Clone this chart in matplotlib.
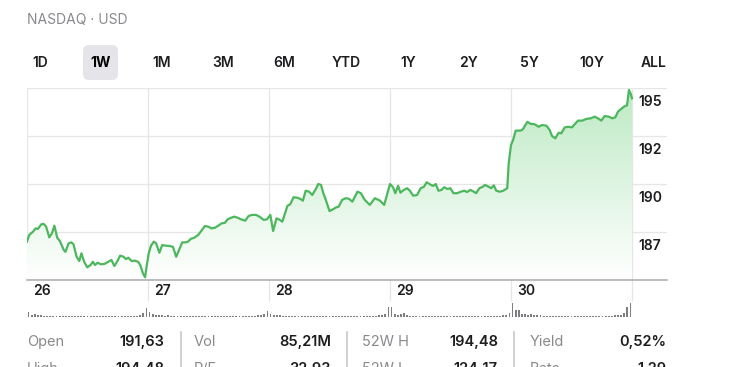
import numpy as np
import matplotlib
matplotlib.use("Agg")
import matplotlib.pyplot as plt
from matplotlib.patches import Polygon, FancyBboxPatch
from matplotlib.colors import LinearSegmentedColormap

plt.rcParams['font.family'] = ['Inter', 'DejaVu Sans']

# ---- data ----
day_labels = ["26", "27", "28", "29", "30"]

# time in trading days since the open of the 26th, price in USD
times = [
    0.000, 0.018, 0.050, 0.072, 0.090, 0.118, 0.138, 0.158, 0.184, 0.206,
    0.226, 0.250, 0.272, 0.304, 0.318, 0.344, 0.366, 0.384, 0.410, 0.432,
    0.450, 0.472, 0.498, 0.526, 0.544, 0.562, 0.584, 0.610, 0.638, 0.672,
    0.698, 0.722, 0.744, 0.770, 0.798, 0.818, 0.838, 0.864, 0.890, 0.918,
    0.936, 0.958, 0.976, 0.984,
    1.006, 1.025, 1.048, 1.067, 1.094, 1.117, 1.144, 1.178, 1.206, 1.233,
    1.256, 1.283, 1.311, 1.331, 1.353, 1.381, 1.414, 1.442, 1.469, 1.497,
    1.525, 1.553, 1.581, 1.608, 1.636, 1.658, 1.686, 1.714, 1.742, 1.769,
    1.803, 1.831, 1.858, 1.894, 1.928, 1.956, 1.983,
    2.011, 2.034, 2.062, 2.082, 2.110, 2.130, 2.153, 2.175, 2.203, 2.231,
    2.260, 2.280, 2.303, 2.331, 2.358, 2.387, 2.407, 2.430, 2.449, 2.472,
    2.500, 2.528, 2.557, 2.576, 2.604, 2.633, 2.661, 2.689, 2.731, 2.760,
    2.788, 2.833, 2.875, 2.918, 2.952,
    3.000, 3.025, 3.044, 3.067, 3.086, 3.114, 3.142, 3.164, 3.192, 3.225,
    3.253, 3.281, 3.303, 3.331, 3.356, 3.378, 3.400, 3.425, 3.448, 3.475,
    3.498, 3.525, 3.553, 3.586, 3.614, 3.636, 3.664, 3.692, 3.711, 3.739,
    3.767, 3.786, 3.814, 3.836, 3.858, 3.878, 3.906, 3.933, 3.969, 3.981,
    4.000, 4.017, 4.039, 4.080, 4.099, 4.135, 4.163, 4.196, 4.229, 4.256,
    4.292, 4.320, 4.339, 4.366, 4.394, 4.416, 4.444, 4.471, 4.504, 4.526,
    4.554, 4.589, 4.622, 4.659, 4.692, 4.727, 4.746, 4.774, 4.807, 4.837,
    4.862, 4.884, 4.906, 4.934, 4.959, 4.975, 4.990, 5.000,
]
prices = [
    187.00, 187.34, 187.52, 187.69, 187.66, 187.90, 187.92, 187.78, 187.22, 187.43,
    187.83, 187.20, 187.03, 186.56, 186.47, 186.91, 186.96, 186.86, 186.21, 185.99,
    186.39, 185.95, 185.66, 185.78, 185.95, 185.78, 185.90, 185.82, 185.83, 185.95,
    186.04, 185.73, 185.95, 186.27, 186.21, 186.09, 186.16, 185.99, 186.01, 185.95,
    185.78, 185.35, 185.14, 185.52,
    186.39, 186.79, 187.00, 186.91, 186.42, 186.82, 186.79, 186.77, 186.73, 186.21,
    186.56, 186.96, 186.96, 187.00, 187.14, 187.20, 187.34, 187.57, 187.81, 187.78,
    187.69, 187.72, 187.83, 187.95, 187.98, 188.16, 188.24, 188.30, 188.24, 188.16,
    188.09, 188.33, 188.39, 188.39, 188.27, 188.13, 188.16,
    188.39, 187.55, 188.21, 188.16, 188.04, 188.42, 188.87, 188.94, 189.31, 189.29,
    189.22, 189.13, 189.65, 189.60, 189.43, 189.74, 190.00, 189.95, 189.52, 189.13,
    188.59, 188.68, 188.79, 188.82, 189.17, 189.26, 189.23, 189.08, 189.60, 189.52,
    189.20, 188.91, 189.26, 189.13, 188.91,
    190.00, 189.83, 189.52, 189.91, 189.55, 189.69, 189.78, 189.65, 189.39, 189.43,
    189.78, 189.86, 190.09, 189.98, 189.90, 190.00, 189.65, 189.69, 189.83, 189.74,
    189.78, 189.52, 189.52, 189.60, 189.65, 189.58, 189.69, 189.60, 189.52, 189.78,
    189.86, 189.95, 189.86, 189.78, 189.93, 189.65, 189.60, 189.64, 189.78, 191.08,
    192.03, 192.29, 192.78, 192.78, 192.86, 193.24, 193.13, 193.11, 192.98, 193.07,
    193.04, 192.81, 192.50, 192.38, 192.67, 192.64, 192.95, 192.98, 192.95, 193.11,
    193.30, 193.30, 193.39, 193.42, 193.51, 193.39, 193.30, 193.54, 193.51, 193.42,
    193.47, 193.77, 193.89, 194.03, 194.10, 194.90, 194.69, 194.46,
]

# 10-minute volume bars, millions of shares (39 per session)
vol_26 = [5.5, 2.0, 2.8, 1.8, 1.6, 1.5, 1.4, 1.5, 1.3, 1.4, 1.3, 1.2, 1.3, 1.2, 1.3, 1.2, 1.1, 1.2, 1.3, 1.1,
          1.2, 1.1, 1.2, 1.0, 1.1, 1.2, 1.1, 1.0, 1.1, 1.2, 1.1, 1.2, 1.3, 1.2, 1.4, 1.5, 2.0, 4.0, 9.0]
vol_27 = [5.0, 3.0, 2.0, 1.8, 1.6, 1.5, 1.6, 1.4, 1.3, 1.4, 1.5, 1.3, 1.2, 1.3, 1.2, 1.1, 1.2, 1.1, 1.3, 1.2,
          1.1, 1.0, 1.2, 1.1, 1.2, 1.1, 1.3, 1.2, 1.1, 1.2, 1.3, 1.2, 1.4, 1.3, 1.5, 1.6, 2.0, 3.0, 6.5]
vol_28 = [3.0, 2.2, 1.8, 1.6, 1.5, 1.4, 1.5, 1.3, 1.4, 1.2, 1.3, 1.2, 1.1, 1.2, 1.1, 1.2, 1.1, 1.0, 1.1, 1.2,
          1.1, 1.0, 1.1, 1.2, 1.1, 1.0, 1.1, 1.2, 1.1, 1.2, 1.3, 1.2, 1.3, 1.4, 1.5, 1.7, 2.0, 3.0, 10.0]
vol_29 = [10.0, 3.5, 2.5, 3.0, 4.5, 2.0, 1.5, 1.4, 1.3, 1.4, 1.2, 1.3, 1.2, 1.1, 1.2, 1.1, 1.0, 1.1, 1.2, 1.1,
          1.0, 1.1, 1.0, 1.1, 1.2, 1.1, 1.0, 1.1, 1.2, 1.1, 1.2, 1.1, 1.3, 1.2, 1.3, 1.4, 1.6, 2.0, 4.0]
vol_30 = [14.5, 7.0, 7.0, 3.5, 3.0, 2.5, 3.5, 2.0, 1.8, 1.6, 1.5, 1.4, 1.5, 1.3, 1.4, 1.2, 1.3, 1.2, 1.1, 1.2,
          1.1, 1.2, 1.1, 1.0, 1.1, 1.2, 1.1, 1.2, 1.1, 1.2, 1.3, 1.5, 1.5, 2.0, 2.0, 2.5, 4.0, 10.0, 14.0]

grid_levels = [195.0, 192.5, 190.0, 187.5]
ranges = ["1D", "1W", "1M", "3M", "6M", "YTD", "1Y", "2Y", "5Y", "10Y", "ALL"]
selected_range = "1W"
exchange_text = "NASDAQ · USD"

stat_labels_1 = ["Open", "Vol", "52W H", "Yield"]
stat_values_1 = ["191,63", "85,21M", "194,48", "0,52%"]
stat_labels_2 = ["High", "P/E", "52W L", "Beta"]
stat_values_2 = ["194,48", "32,93", "124,17", "1,29"]

# ---- layout ----
W, H = 734, 367
fig = plt.figure(figsize=(W / 100, H / 100), dpi=100, facecolor='white')

px_day = 121.0          # pixels per session
x0, x1 = 27, 667        # left / right edge of chart area
y_top, y_bot = 88, 280  # 195 and 185

ax = fig.add_axes([x0 / W, 1 - y_bot / H, (x1 - x0) / W, (y_bot - y_top) / H])
ax.set_xlim(0, (x1 - x0) / px_day)
ax.set_ylim(185, 195)
ax.axis('off')

grid_c = '#e6e6e6'
for lv in grid_levels:
    ax.axhline(lv, color=grid_c, lw=0.9, zorder=0)
ax.axvline(0, color=grid_c, lw=0.9, zorder=0)
for d in range(1, len(day_labels) + 1):
    ax.axvline(d, ymin=-0.105, ymax=1, color=grid_c, lw=0.9, zorder=0, clip_on=False)
ax.axhline(185, color='#a9a9ad', lw=1.1, zorder=3, clip_on=False)

# gradient fill under the line
cmap = LinearSegmentedColormap.from_list('g', ['#ffffff', '#bdeac4'])
grad = np.linspace(0, 1, 256).reshape(-1, 1)
im = ax.imshow(grad, extent=[0, times[-1], 185, 195], origin='lower', aspect='auto',
               cmap=cmap, zorder=1, interpolation='bilinear')
verts = list(zip(times, prices)) + [(times[-1], 185), (times[0], 185)]
poly = Polygon(verts, closed=True, facecolor='none', edgecolor='none', transform=ax.transData)
ax.add_patch(poly)
im.set_clip_path(poly)

ax.plot(times, prices, color='#4cb75d', lw=1.6, zorder=4, solid_joinstyle='round')

# price labels: truncated grid values, just under each line
for lv in grid_levels:
    ax.annotate(str(int(lv)), xy=((638 - x0) / (x1 - x0), lv), xycoords=('axes fraction', 'data'),
                xytext=(0, -14), textcoords='offset pixels', ha='left', va='center',
                fontsize=10, fontweight='semibold', color='#1d1d1f')

# day labels
for d, lab in enumerate(day_labels):
    ax.annotate(lab, xy=(d, 185), xytext=(6, -11), textcoords='offset pixels',
                ha='left', va='center', fontsize=10, fontweight='semibold', color='#1d1d1f',
                annotation_clip=False)

# volume bars
vax = fig.add_axes([x0 / W, 1 - 317 / H, (x1 - x0) / W, 14 / H])
vax.set_xlim(0, (x1 - x0) / px_day)
vax.set_ylim(0, 14.5)
vax.axis('off')
for d, vols in enumerate([vol_26, vol_27, vol_28, vol_29, vol_30]):
    n = len(vols)
    xs = d + (np.arange(n) + 0.5) / n
    vax.bar(xs, vols, width=0.6 / n, color='#7d7d82', linewidth=0)

# overlay in pixel coordinates for the UI text
ov = fig.add_axes([0, 0, 1, 1], zorder=-1)
ov.set_xlim(0, W)
ov.set_ylim(H, 0)
ov.axis('off')

ov.text(27, 20, exchange_text, ha='left', va='center', fontsize=10, color='#8a8a8e')

range_x = [40, 101, 162, 223, 284, 346, 408, 468, 529, 592, 654]
for x, r in zip(range_x, ranges):
    if r == selected_range:
        ov.add_patch(FancyBboxPatch((83, 45), 35, 35, boxstyle='round,pad=0,rounding_size=6',
                                    facecolor='#e4e4e9', edgecolor='none'))
        ov.text(x, 63, r, ha='center', va='center', fontsize=10, fontweight='bold', color='#000000')
    else:
        ov.text(x, 63, r, ha='center', va='center', fontsize=10, fontweight='semibold', color='#1d1d1f')

label_x = [27, 194, 362, 530]
value_x = [164, 331, 498, 666]
for row_y, labs, vals in [(342, stat_labels_1, stat_values_1), (369, stat_labels_2, stat_values_2)]:
    for lx, vx, lab, val in zip(label_x, value_x, labs, vals):
        ov.text(lx, row_y, lab, ha='left', va='center', fontsize=10.5, color='#8a8a8e')
        ov.text(vx, row_y, val, ha='right', va='center', fontsize=10.5, fontweight='semibold',
                color='#1d1d1f')
for sx in [181, 347, 514]:
    ov.plot([sx, sx], [332, H], color='#c8c8cc', lw=1.2)

fig.savefig('out.png', dpi=100, facecolor='white')
